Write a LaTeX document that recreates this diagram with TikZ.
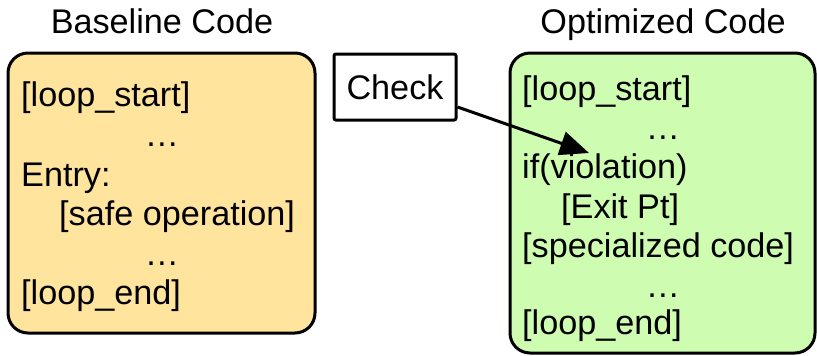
\documentclass[tikz,border=0pt]{standalone}
\usepackage{fontspec}
\setmainfont{Liberation Sans}
\usetikzlibrary{arrows.meta}
\definecolor{basefill}{RGB}{255,228,157}
\definecolor{optfill}{RGB}{206,252,176}
\tikzset{
  codefont/.style={font=\fontsize{34.2}{40}\selectfont},
  codebox/.style={draw=black, line width=3pt, rounded corners=20pt},
  codeline/.style={anchor=base west, inner sep=0pt, codefont},
  dotsline/.style={anchor=base, inner sep=0pt, codefont},
  title/.style={anchor=base, inner sep=0pt, codefont},
  checkbox/.style={draw=black, line width=3pt, rounded corners=2pt, fill=white,
    minimum width=122pt, minimum height=66pt, inner sep=0pt, codefont},
  link/.style={line width=3pt, -{Triangle[length=29pt,width=24pt]}}
}
\begin{document}
\begin{tikzpicture}[x=1pt,y=-1pt]
  \useasboundingbox (0,0) rectangle (817,356);

  % titles
  \node[title] (basetitle) at (162,33) {Baseline Code};
  \node[title] (opttitle) at (663,33) {Optimized Code};

  % baseline code block
  \draw[codebox, fill=basefill] (8,53) rectangle (315,333);
  \node[codeline] (b1) at (21,106) {[loop\_start]};
  \node[dotsline] (b2) at (162,146) {…};
  \node[codeline] (b3) at (21,186) {Entry:};
  \node[codeline] (b4) at (59,225) {[safe operation]};
  \node[dotsline] (b5) at (162,265) {…};
  \node[codeline] (b6) at (21,304) {[loop\_end]};

  % optimized code block
  \draw[codebox, fill=optfill] (510,53) rectangle (815,353);
  \node[codeline] (o1) at (522,100) {[loop\_start]};
  \node[dotsline] (o2) at (663,139) {…};
  \node[codeline] (o3) at (522,178) {if(violation)};
  \node[codeline] (o4) at (561,218) {[Exit Pt]};
  \node[codeline] (o5) at (522,257) {[specialized code]};
  \node[dotsline] (o6) at (663,297) {…};
  \node[codeline] (o7) at (522,334) {[loop\_end]};

  % check inserted into the optimized loop
  \node[checkbox] (check) at (395,87) {Check};
  \coordinate (arrowtip) at (589,153);
  \draw[link] ([yshift=-20pt]check.east) -- (arrowtip);
\end{tikzpicture}
\end{document}
